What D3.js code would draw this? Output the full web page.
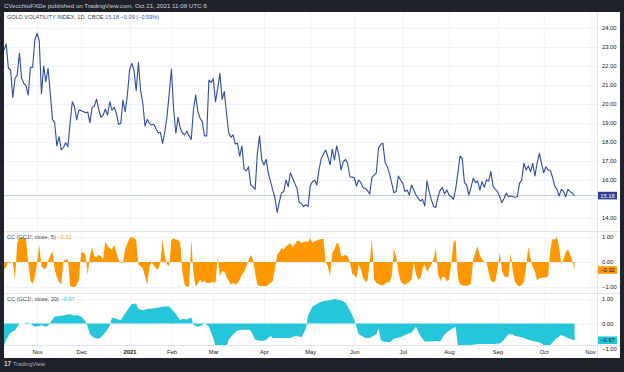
<!DOCTYPE html>
<html><head><meta charset="utf-8">
<script src="https://cdn.jsdelivr.net/npm/d3@7/dist/d3.min.js"></script>
<style>html,body{margin:0;padding:0;background:#1f222b;overflow:hidden}svg{display:block}</style>
</head><body><svg id="c" width="624" height="372"></svg>
<script>
// ---------- data ----------
const monthLabels = ["Nov","Dec","2021","Feb","Mar","Apr","May","Jun","Jul","Aug","Sep","Oct","Nov"];
const holidays = ["2020-11-26","2020-12-25","2021-01-01","2021-01-18","2021-02-15","2021-04-02","2021-05-31","2021-07-05","2021-09-06"];
const priceTicks = [14,15,16,17,18,19,20,21,22,23,24];
const ccTicks = [1,0,-1];

// Gold volatility index (GVZ) daily closes, from 2020-10-12 to 2021-10-21
const gvz = [
22.84,23.16,21.88,21.79,20.35,21.35,21.53,22.67,21.35,21.09,
20.95,20.47,21.93,21.93,23.37,23.72,23.33,20.53,22.0,21.17,
21.88,20.6,19.19,19.02,17.79,18.28,17.58,17.72,17.96,17.75,
18.98,20.12,19.86,19.16,19.68,19.65,19.6,19.54,19.58,19.02,
19.81,19.89,20.26,19.72,19.30,19.42,19.72,19.42,20.12,19.68,
19.83,19.51,18.93,18.98,20.21,19.59,20.47,21.79,22.14,21.79,
20.70,22.18,20.74,20.04,18.84,19.19,18.98,18.89,18.93,18.7,
18.49,18.51,
17.93,18.54,19.33,20.56,21.83,19.72,18.46,19.30,18.72,18.46,
18.37,18.58,18.32,18.14,19.68,20.47,19.59,19.25,19.07,18.32,
18.32,21.26,21.14,21.33,20.12,20.82,21.61,20.25,20.65,19.51,
18.49,18.25,18.37,17.89,17.93,17.26,17.79,16.56,16.49,16.70,
15.74,15.65,15.51,17.40,18.32,17.05,16.79,17.09,16.35,15.91,
15.47,15.04,14.30,14.86,15.33,15.39,16.0,15.65,16.38,16.09,
15.82,15.56,14.81,14.78,14.6,14.7,14.6,
15.68,15.91,16.0,15.74,16.53,17.14,17.35,17.58,17.23,16.79,
17.62,17.05,17.79,17.32,16.53,16.96,17.09,16.88,16.17,16.15,
16.12,15.68,16.0,15.86,15.59,15.56,15.44,15.26,16.14,16.26,
16.38,17.67,17.88,17.93,16.91,16.70,16.32,15.82,15.33,15.39,
16.21,16.0,15.82,15.39,15.47,15.21,15.74,15.47,15.21,15.04,
14.89,14.98,14.63,15.96,15.39,14.95,14.60,14.56,15.12,15.47,
15.61,15.26,15.47,15.21,15.12,14.98,15.51,16.35,17.26,17.14,
15.86,15.74,15.21,15.61,16.09,15.86,15.95,15.47,15.91,15.61,
16.0,15.95,16.44,15.68,15.51,15.39,15.12,14.81,15.04,15.30,
15.12,15.16,15.12,15.09,15.12,15.82,16.0,16.88,16.53,16.74,
16.44,16.88,16.21,16.88,17.40,16.88,16.38,16.70,16.53,16.5,
16.14,15.68,15.51,15.16,15.51,15.39,15.12,15.51,15.39,15.30,
15.18
];

// CC (GC1!, close, 5), one value per session
const cc5 = [
-0.28,-0.2,0.05,-0.05,0.0,-0.71,0.76,0.95,0.96,0.97,
0.92,0.0,-0.75,-0.88,-0.6,-0.05,0.69,-0.2,-0.25,-0.28,
0.03,0.25,0.43,-0.3,-0.6,-0.8,-0.9,0.05,0.09,0.13,
-0.97,-1.0,-1.0,-0.93,-0.71,0.36,0.39,0.3,-0.51,0.23,
0.6,0.23,0.2,0.29,0.23,0.12,0.83,0.63,0.56,0.5,
0.69,0.4,0.1,-0.04,-0.02,0.5,0.75,0.95,1.0,0.95,
0.89,-0.1,-0.17,-0.25,-0.57,-0.91,-0.2,0.0,-0.15,-0.26,
-0.3,0.0,0.9,0.23,-0.1,-0.17,0.89,0.95,0.89,0.9,
0.76,-0.4,-0.91,-1.0,-0.97,0.89,-0.44,-1.0,-0.85,-0.71,
-0.81,-0.77,-0.84,-0.84,-0.82,-0.8,-0.84,0.23,-0.57,-0.37,
-0.37,-0.6,-0.75,-0.91,-0.84,-0.9,-0.85,-0.71,-0.5,-0.4,
-0.17,0.05,0.29,0.1,-0.44,-0.91,-0.97,-0.96,-0.96,-0.97,
-0.9,-0.84,-0.75,-0.3,0.29,0.4,0.56,0.5,0.63,0.69,
0.76,0.6,0.7,0.85,0.85,0.76,0.8,0.83,0.79,0.96,
0.76,0.83,0.86,0.9,0.92,0.93,0.0,-0.17,-0.57,0.36,
0.5,0.76,0.73,0.25,0.23,0.29,0.22,0.0,-0.46,-0.55,
-0.64,-0.1,-0.3,-0.65,-0.77,-0.77,0.0,0.92,-0.71,-0.84,
-0.88,-0.93,-0.93,-0.88,-0.8,-0.81,-0.57,0.52,0.23,-0.4,
-0.75,-0.86,-0.91,-0.86,-0.8,-0.71,0.0,-0.5,-0.71,-0.64,
-0.3,-0.1,-0.4,-0.24,-0.1,0.1,0.56,-0.44,-0.77,-0.6,
-0.6,-0.77,-0.7,-0.1,0.76,0.89,-0.6,-0.9,-0.93,-0.95,
-0.95,-0.93,-0.86,0.1,0.4,0.63,0.25,0.12,-0.03,0.0,
-0.4,-0.75,-0.8,-0.78,-0.3,0.39,-0.35,-0.55,-0.62,-0.58,
0.36,-0.4,-0.8,-0.92,-0.97,-0.92,-0.8,-0.2,0.6,0.15,
-0.2,-0.37,-0.75,-0.65,-0.64,-0.6,-0.64,-0.55,0.5,0.93,
0.89,1.0,0.6,-0.08,0.1,0.4,0.5,0.29,0.05,-0.32
];

// CC (GC1!, close, 20): [session index, value]
const cc20 = [
[0,-0.88],[1,-0.65],[3,-0.36],[5,-0.28],[6,-0.13],[7,-0.01],[9,0.01],[11,0.04],[12,-0.01],[14,-0.13],
[16,-0.1],[17,-0.06],[19,-0.13],[20,-0.09],[22,0.16],[23,0.28],[26,0.31],[28,0.34],[30,0.38],[32,0.31],
[33,0.34],[35,0.28],[37,0.09],[38,-0.13],[39,-0.43],[41,-0.58],[43,-0.61],[44,-0.55],[46,-0.36],[48,-0.09],
[49,0.24],[51,0.19],[53,0.13],[54,0.28],[56,0.53],[58,0.78],[60,0.8],[61,0.58],[63,0.53],[65,0.58],
[68,0.61],[70,0.64],[73,0.68],[75,0.68],[76,0.58],[78,0.38],[80,0.13],[81,0.19],[83,0.16],[85,0.24],
[86,-0.06],[88,-0.13],[90,-0.06],[91,0.04],[93,-0.13],[95,-0.58],[96,-0.9],[98,-0.98],[101,-0.95],[102,-0.65],
[104,-0.43],[106,-0.28],[108,-0.25],[111,-0.25],[112,-0.28],[114,-0.65],[117,-0.7],[119,-0.65],[121,-0.5],[122,-0.58],
[125,-0.58],[127,-0.58],[130,-0.58],[132,-0.5],[133,-0.5],[135,-0.55],[137,-0.21],[138,0.31],[140,0.68],[143,0.83],
[145,0.9],[148,0.93],[150,0.98],[153,0.93],[155,0.83],[157,0.53],[159,0.16],[160,-0.13],[161,-0.43],[164,-0.58],
[166,-0.58],[169,-0.43],[170,-0.21],[171,-0.65],[172,-0.72],[175,-0.75],[177,-0.61],[180,-0.55],[182,-0.46],[185,-0.36],
[187,-0.13],[189,-0.5],[191,-0.72],[193,-0.72],[196,-0.7],[198,-0.72],[200,-0.43],[202,-0.28],[205,-0.13],[206,-0.86],
[209,-0.86],[212,-0.86],[215,-0.82],[218,-0.82],[222,-0.82],[225,-0.8],[227,-0.65],[229,-0.43],[231,-0.43],[232,-0.5],
[235,-0.55],[238,-0.65],[240,-0.7],[243,-0.75],[245,-0.86],[248,-0.86],[249,-0.75],[251,-0.58],[253,-0.46],[254,-0.5],
[256,-0.58],[258,-0.65],[259,-0.67]
];

// ---------- sessions (trading days) ----------
const sessions = [];
{
  let d = new Date(Date.UTC(2020, 9, 12));
  const end = new Date(Date.UTC(2021, 10, 1));
  while (d <= end) {
    const dow = d.getUTCDay();
    const iso = d.toISOString().slice(0, 10);
    if (dow !== 0 && dow !== 6 && !holidays.includes(iso)) sessions.push(new Date(d));
    d = new Date(d.getTime() + 86400000);
  }
}
const monthTicks = [];
for (let i = 1; i < sessions.length; i++) {
  if (sessions[i].getUTCMonth() !== sessions[i - 1].getUTCMonth()) monthTicks.push(i);
}

// ---------- layout ----------
const FONT = "'Liberation Sans', Arial, sans-serif";
const frame = "#1f222b";
const grid = "#f0f3fa";
const border = "#e0e3eb";
const textCol = "#131722";
const lineCol = "#2b4ba6";
const orange = "#ff9800";
const cyan = "#26c6da";

const svg = d3.select("#c");
const plotL = 4, plotR = 597, axisR = 620, whiteTop = 12, whiteBot = 358;
const paneMain = [whiteTop, 231], paneMid = [231, 293], paneBot = [293, 345];

const x = d3.scaleLinear().domain([0, sessions.length - 1]).range([4, 590]);
const yMain = d3.scaleLinear().domain([14, 24]).range([218, 28]);
const yMid = d3.scaleLinear().domain([-1, 1]).range([287, 237]);
const yBot = d3.scaleLinear().domain([-1, 1]).range([348.5, 298.5]);

svg.append("rect").attr("width", 624).attr("height", 372).attr("fill", frame);
svg.append("rect").attr("x", plotL).attr("y", whiteTop).attr("width", axisR - plotL)
  .attr("height", whiteBot - whiteTop).attr("fill", "#ffffff");

// title bar
svg.append("text").attr("x", 4).attr("y", 8.3).attr("fill", "#d1d4dc")
  .attr("font-family", FONT).attr("font-size", 6.2)
  .text("CVecchioFXDe published on TradingView.com, Oct 21, 2021 11:08 UTC-5");

// clip paths
const defs = svg.append("defs");
[["cMain", paneMain], ["cMid", paneMid], ["cBot", paneBot]].forEach(([id, p]) => {
  defs.append("clipPath").attr("id", id).append("rect")
    .attr("x", plotL).attr("y", p[0]).attr("width", plotR - plotL).attr("height", p[1] - p[0]);
});

// vertical grid
const gGrid = svg.append("g");
monthTicks.forEach(t => {
  gGrid.append("line").attr("x1", x(t) + 0.5).attr("x2", x(t) + 0.5)
    .attr("y1", whiteTop).attr("y2", paneBot[1]).attr("stroke", grid).attr("stroke-width", 1);
});
// horizontal grid
priceTicks.forEach(v => gGrid.append("line").attr("x1", plotL).attr("x2", plotR)
  .attr("y1", Math.round(yMain(v)) + 0.5).attr("y2", Math.round(yMain(v)) + 0.5).attr("stroke", grid));
ccTicks.forEach(v => {
  gGrid.append("line").attr("x1", plotL).attr("x2", plotR)
    .attr("y1", Math.round(yMid(v)) + 0.5).attr("y2", Math.round(yMid(v)) + 0.5).attr("stroke", grid);
  if (yBot(v) < paneBot[1]) gGrid.append("line").attr("x1", plotL).attr("x2", plotR)
    .attr("y1", Math.round(yBot(v)) + 0.5).attr("y2", Math.round(yBot(v)) + 0.5).attr("stroke", grid);
});

// pane separators
[paneMid[0], paneBot[0], paneBot[1]].forEach(yy => svg.append("line")
  .attr("x1", plotL).attr("x2", axisR).attr("y1", yy + 0.5).attr("y2", yy + 0.5)
  .attr("stroke", border));
svg.append("line").attr("x1", plotR + 0.5).attr("x2", plotR + 0.5).attr("y1", whiteTop)
  .attr("y2", whiteBot).attr("stroke", border);

// main line
const last = gvz[gvz.length - 1];
svg.append("line").attr("x1", plotL).attr("x2", plotR)
  .attr("y1", yMain(last)).attr("y2", yMain(last))
  .attr("stroke", lineCol).attr("stroke-opacity", 0.3).attr("stroke-width", 1);
svg.append("path").datum(gvz).attr("clip-path", "url(#cMain)")
  .attr("d", d3.line().x((d, i) => x(i)).y(d => yMain(d)))
  .attr("fill", "none").attr("stroke", lineCol).attr("stroke-width", 1.1)
  .attr("stroke-linejoin", "round");

// CC5 area
svg.append("path").datum(cc5).attr("clip-path", "url(#cMid)")
  .attr("d", d3.area().x((d, i) => x(i)).y0(yMid(0)).y1(d => yMid(d)))
  .attr("fill", orange);
// CC20 area
svg.append("path").datum(cc20).attr("clip-path", "url(#cBot)")
  .attr("d", d3.area().x(d => x(d[0])).y0(yBot(0)).y1(d => yBot(d[1])))
  .attr("fill", cyan);

// legends
function legend(y, parts) {
  const t = svg.append("text").attr("x", 7).attr("y", y).attr("font-family", FONT)
    .attr("font-size", 5.6);
  parts.forEach(([s, c]) => t.append("tspan").attr("fill", c).text(s));
}
legend(19, [["GOLD VOLATILITY INDEX, 1D, CBOE  ", "#3b3f4a"], ["15.18  \u22120.09 (\u22120.59%)", "#2f56c4"]]);
legend(239.3, [["CC (GC1!, close, 5)  ", "#3b3f4a"], ["\u22120.32", orange]]);
legend(301.3, [["CC (GC1!, close, 20)  ", "#3b3f4a"], ["\u22120.67", cyan]]);

// right axes
const fmt = v => (v < 0 ? "\u2212" : "") + Math.abs(v).toFixed(2);
function rightAxis(scale, ticks, clipTop, clipBot) {
  const g = svg.append("g").attr("transform", `translate(${plotR},0)`)
    .call(d3.axisRight(scale).tickValues(ticks.filter(v => scale(v) > clipTop && scale(v) < clipBot)).tickFormat(fmt).tickSize(0).tickPadding(5));
  g.select(".domain").remove();
  g.selectAll("text").attr("font-family", FONT).attr("font-size", 5.8).attr("fill", textCol);
  return g;
}
rightAxis(yMain, priceTicks.filter(v => v !== 15), whiteTop, paneMain[1]);
rightAxis(yMid, ccTicks, paneMid[0], paneMid[1] + 3);
rightAxis(yBot, ccTicks, paneBot[0], paneBot[1] + 6);

// last value boxes
function valueBox(y, label, bg, fg) {
  svg.append("rect").attr("x", plotR + 1).attr("y", y - 3.8).attr("width", 19).attr("height", 7.6).attr("fill", bg);
  svg.append("text").attr("x", plotR + 10.5).attr("y", y + 2).attr("text-anchor", "middle")
    .attr("font-family", FONT).attr("font-size", 5.8).attr("fill", fg).text(label);
}
valueBox(yMain(last), fmt(last), "#2a3f96", "#ffffff");
valueBox(yMid(cc5[cc5.length - 1]), fmt(cc5[cc5.length - 1]), orange, textCol);
valueBox(yBot(cc20[cc20.length - 1][1]), fmt(cc20[cc20.length - 1][1]), cyan, textCol);

// time axis
const gx = svg.append("g").attr("transform", `translate(0,${paneBot[1]})`)
  .call(d3.axisBottom(x).tickValues(monthTicks).tickFormat((d, i) => monthLabels[i]).tickSize(0).tickPadding(5));
gx.select(".domain").remove();
gx.selectAll("text").attr("font-family", FONT).attr("font-size", 5.8).attr("fill", textCol)
  .attr("font-weight", (d, i) => monthLabels[i] === "2021" ? "bold" : "normal");

// footer logo
svg.append("text").attr("x", 4).attr("y", 366).attr("font-family", FONT).attr("font-weight", "bold")
  .attr("font-size", 6.5).attr("fill", "#d1d4dc").text("17");
svg.append("text").attr("x", 13).attr("y", 366).attr("font-family", FONT)
  .attr("font-size", 5.8).attr("fill", "#b2b5be").text("TradingView");
</script>
</body></html>
